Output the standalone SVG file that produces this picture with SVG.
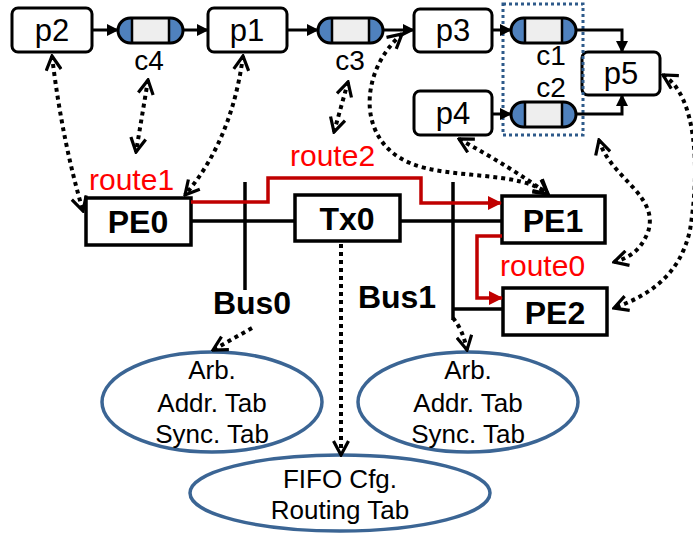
<svg xmlns="http://www.w3.org/2000/svg" width="693" height="533" viewBox="0 0 693 533">
  <style>
    .proc { fill: #fff; stroke: #000; stroke-width: 3; }
    .pe { fill: #fff; stroke: #000; stroke-width: 3.5; }
    .lbl { font-family: "Liberation Sans", Arial, sans-serif; font-size: 31px; fill: #000; text-anchor: middle; }
    .ch { font-family: "Liberation Sans", Arial, sans-serif; font-size: 28px; fill: #000; text-anchor: middle; }
    .bold { font-family: "Liberation Sans", Arial, sans-serif; font-size: 32px; font-weight: bold; fill: #000; text-anchor: middle; }
    .red { font-family: "Liberation Sans", Arial, sans-serif; font-size: 30px; fill: #ff0000; }
    .tab { font-family: "Liberation Sans", Arial, sans-serif; font-size: 26px; fill: #000; text-anchor: middle; }
    .flow { fill: none; stroke: #000; stroke-width: 3; }
    .bus { fill: none; stroke: #000; stroke-width: 3.5; }
    .route { fill: none; stroke: #c00000; stroke-width: 3.5; }
    .map { fill: none; stroke: #000; stroke-width: 4; stroke-dasharray: 4 4; }
    .mem { fill: #fff; stroke: #3b6594; stroke-width: 3.5; }
  </style>
  <defs>
    <marker id="tri" markerUnits="userSpaceOnUse" viewBox="0 0 12 12" refX="11" refY="6" markerWidth="12" markerHeight="12" orient="auto">
      <path d="M0,0 L12,6 L0,12 Z" fill="#000"/>
    </marker>
    <marker id="triRed" markerUnits="userSpaceOnUse" viewBox="0 0 14 14" refX="13" refY="7" markerWidth="14" markerHeight="14" orient="auto">
      <path d="M0,0 L14,7 L0,14 Z" fill="#c00000"/>
    </marker>
    <marker id="chev" markerUnits="userSpaceOnUse" viewBox="0 0 18 18" refX="16" refY="9" markerWidth="18" markerHeight="18" orient="auto-start-reverse">
      <path d="M2,1.5 L16,9 L2,16.5" fill="none" stroke="#000" stroke-width="3.2" stroke-dasharray="none"/>
    </marker>
    <!-- FIFO channel: capsule with blue end caps -->
    <g id="fifo">
      <rect x="0" y="0" width="65" height="25" rx="12.5" fill="#4f81bd"/>
      <rect x="14" y="0" width="37" height="25" fill="#eeeeee"/>
      <rect x="0" y="0" width="65" height="25" rx="12.5" fill="none" stroke="#000" stroke-width="3"/>
      <line x1="14" y1="0" x2="14" y2="25" stroke="#000" stroke-width="2.5"/>
      <line x1="51" y1="0" x2="51" y2="25" stroke="#000" stroke-width="2.5"/>
    </g>
  </defs>

  <!-- process graph -->
  <g id="p2"><rect class="proc" x="12" y="8" width="80" height="44" rx="6"/><text class="lbl" x="52" y="41">p2</text></g>
  <g id="c4"><use href="#fifo" x="118" y="18"/><text class="ch" x="149" y="70">c4</text></g>
  <g id="p1"><rect class="proc" x="208" y="8" width="79" height="44" rx="6"/><text class="lbl" x="247" y="41">p1</text></g>
  <g id="c3"><use href="#fifo" x="318" y="18"/><text class="ch" x="350" y="70">c3</text></g>
  <g id="p3"><rect class="proc" x="414" y="9" width="78" height="43" rx="6"/><text class="lbl" x="453" y="41">p3</text></g>
  <g id="c1"><use href="#fifo" x="511" y="18"/><text class="ch" x="551" y="65">c1</text></g>
  <g id="c2"><use href="#fifo" x="511" y="102"/><text class="ch" x="551" y="97">c2</text></g>
  <g id="p4"><rect class="proc" x="414" y="91" width="78" height="44" rx="6"/><text class="lbl" x="453" y="124">p4</text></g>
  <g id="p5"><rect class="proc" x="582" y="52" width="78" height="43" rx="6"/><text class="lbl" x="621" y="84">p5</text></g>
  <g id="cluster"><rect x="503" y="4" width="80" height="131" fill="none" stroke="#2e5a8a" stroke-width="3" stroke-dasharray="3 3"/></g>

  <!-- platform -->
  <g id="PE0"><rect class="pe" x="86" y="198" width="105" height="47"/><text class="bold" x="138" y="233">PE0</text></g>
  <g id="Tx0"><rect class="pe" x="295" y="195" width="105" height="46"/><text class="bold" x="347" y="230">Tx0</text></g>
  <g id="PE1"><rect class="pe" x="502" y="196" width="103" height="47"/><text class="bold" x="553" y="232">PE1</text></g>
  <g id="PE2"><rect class="pe" x="503" y="288" width="104" height="47"/><text class="bold" x="555" y="324">PE2</text></g>
  <g id="Bus0"><line class="bus" x1="245" y1="182" x2="245" y2="290"/><text class="bold" x="252" y="314">Bus0</text></g>
  <g id="Bus1"><line class="bus" x1="453" y1="182" x2="453" y2="320"/><text class="bold" x="397" y="308">Bus1</text></g>

  <!-- memories -->
  <g id="mem0"><ellipse class="mem" cx="212" cy="402" rx="110" ry="50"/>
    <text class="tab" x="212" y="379">Arb.</text><text class="tab" x="212" y="412">Addr. Tab</text><text class="tab" x="212" y="443">Sync. Tab</text></g>
  <g id="mem1"><ellipse class="mem" cx="468" cy="402" rx="110" ry="50"/>
    <text class="tab" x="468" y="379">Arb.</text><text class="tab" x="468" y="412">Addr. Tab</text><text class="tab" x="468" y="443">Sync. Tab</text></g>
  <g id="memTx"><ellipse class="mem" cx="340" cy="493" rx="150" ry="38"/>
    <text class="tab" x="340" y="488">FIFO Cfg.</text><text class="tab" x="340" y="519">Routing Tab</text></g>

  <g id="connectors">
    <!-- data flow -->
    <line class="flow" x1="92" y1="30" x2="118" y2="30" marker-end="url(#tri)"/>
    <line class="flow" x1="183" y1="30" x2="208" y2="30" marker-end="url(#tri)"/>
    <line class="flow" x1="287" y1="30" x2="318" y2="30" marker-end="url(#tri)"/>
    <line class="flow" x1="383" y1="30" x2="414" y2="30" marker-end="url(#tri)"/>
    <line class="flow" x1="492" y1="30" x2="511" y2="30" marker-end="url(#tri)"/>
    <line class="flow" x1="492" y1="114" x2="511" y2="114" marker-end="url(#tri)"/>
    <path class="flow" d="M576,30 L622,30 L622,52" marker-end="url(#tri)"/>
    <path class="flow" d="M576,114 L622,114 L622,95" marker-end="url(#tri)"/>

    <!-- interconnect -->
    <line class="bus" x1="191" y1="221" x2="295" y2="221"/>
    <line class="bus" x1="400" y1="221" x2="502" y2="221"/>
    <line class="bus" x1="453" y1="309" x2="503" y2="309"/>

    <!-- routes -->
    <path class="route" d="M191,202 L268,202 L268,178 L421,178 L421,203 L501,203" marker-end="url(#triRed)"/>
    <path class="route" d="M502,236 L477,236 L477,298 L502,298" marker-end="url(#triRed)"/>

    <!-- mapping -->
    <path class="map" d="M52,56 Q62,140 83,211" marker-start="url(#chev)" marker-end="url(#chev)"/>
    <path class="map" d="M148,80 L136,152" marker-start="url(#chev)" marker-end="url(#chev)"/>
    <path class="map" d="M243,56 Q232,140 185,195" marker-start="url(#chev)" marker-end="url(#chev)"/>
    <path class="map" d="M348,82 L334,132" marker-start="url(#chev)" marker-end="url(#chev)"/>
    <path class="map" d="M402,34 C360,70 355,140 410,163 C450,180 520,170 548,194" marker-start="url(#chev)" marker-end="url(#chev)"/>
    <path class="map" d="M459,139 Q512,168 548,194" marker-start="url(#chev)" marker-end="url(#chev)"/>
    <path class="map" d="M599,140 C610,178 660,195 648,232 C640,252 628,258 614,262" marker-start="url(#chev)" marker-end="url(#chev)"/>
    <path class="map" d="M663,75 C697,95 700,170 690,230 C680,275 650,295 614,308" marker-start="url(#chev)" marker-end="url(#chev)"/>
    <path class="map" d="M252,328 L213,350" marker-end="url(#chev)"/>
    <path class="map" d="M341,244 L341,455" marker-end="url(#chev)"/>
    <path class="map" d="M453,318 Q463,330 467,350" marker-end="url(#chev)"/>
  </g>

  <!-- route labels -->
  <text class="red" x="89" y="190">route1</text>
  <text class="red" x="290" y="166">route2</text>
  <text class="red" x="500" y="276">route0</text>
</svg>
